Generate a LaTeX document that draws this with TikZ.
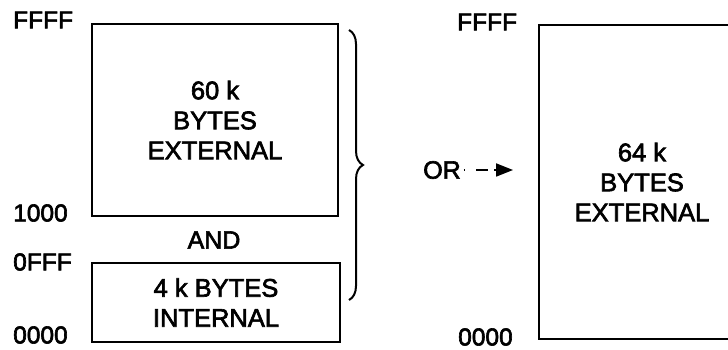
\documentclass[tikz,border=0pt]{standalone}
\usepackage{fontspec}
\setmainfont{Liberation Sans}
\newfontfamily\scanfont[FakeBold=2.5]{Liberation Sans}
\usepackage{tikz}
\usetikzlibrary{positioning,arrows.meta,decorations.pathreplacing}

\begin{document}
\begin{tikzpicture}[
  x=1pt,y=1pt,
  membox/.style={draw=black,line width=2.4pt,inner sep=0pt,align=center,
    font=\scanfont\fontsize{25.5}{30}\selectfont},
  addr/.style={anchor=west,inner sep=0pt,font=\scanfont\fontsize{24.5}{28}\selectfont},
  word/.style={inner sep=3pt,font=\scanfont\fontsize{25}{28}\selectfont},
  bracket/.style={decorate,decoration={brace,amplitude=14pt},line width=2pt},
  orarr/.style={line width=1.8pt,dash pattern=on 1.5pt off 11pt on 12pt off 6pt,
    -{Triangle[length=17pt,width=13pt]}}
]
  \useasboundingbox (0,0) rectangle (728,350);
  \clip (0,0) rectangle (728,350);
  % left map: 60k external above 4k internal
  \node[membox,minimum width=246pt,minimum height=192pt] (ext60) at (215,230) {60 k\\BYTES\\EXTERNAL};
  \node[membox,minimum width=248pt,minimum height=79pt] (int4) at (216,47.5) {4 k BYTES\\INTERNAL};
  \node[word] (and) at (214,110) {AND};
  \node[addr] (ffffA) at (13,330) {FFFF};
  \node[addr] (k1000) at (13,137) {1000};
  \node[addr] (k0fff) at (13,88) {0FFF};
  \node[addr] (zeroA) at (13,15) {0000};
  \coordinate (bractop) at (349,320);
  \coordinate (bracbot) at (349,50);
  \draw[bracket] (bractop) -- (bracbot);
  % right map: 64k external
  \node[membox,minimum width=206pt,minimum height=314pt] (ext64) at (642,168) {64 k\\BYTES\\EXTERNAL};
  \node[addr] (ffffB) at (457,328) {FFFF};
  \node[addr] (zeroB) at (458,13) {0000};
  \node[word] (or) at (442,180) {OR};
  \coordinate (orhead) at (513,180);
  \draw[orarr] (or) -- (orhead);
\end{tikzpicture}
\end{document}
